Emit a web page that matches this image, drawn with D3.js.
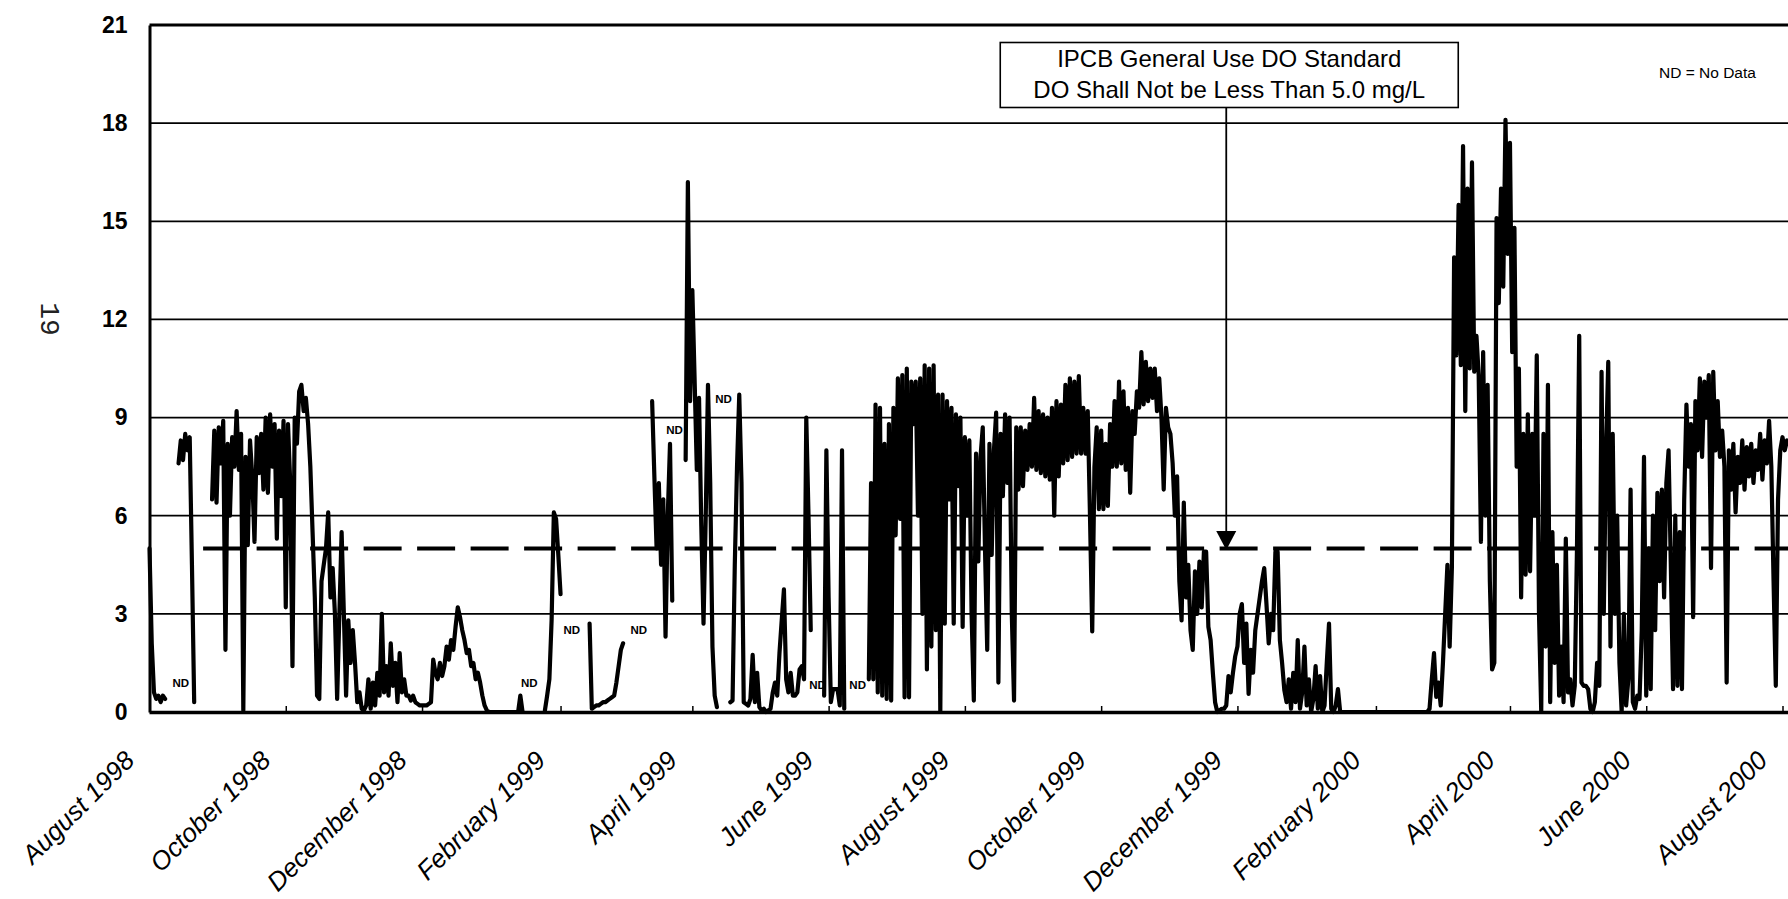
<!DOCTYPE html>
<html><head><meta charset="utf-8">
<script src="https://cdn.jsdelivr.net/npm/d3@7"></script>
<style>html,body{margin:0;padding:0;background:#fff;} svg{display:block;}</style>
</head><body>
<svg id="chart" width="1788" height="899"></svg>
<script>
// ---------------- DATA ----------------
const yTicks = [0, 3, 6, 9, 12, 15, 18, 21];
const xTickDates = ["1998-08-01","1998-10-01","1998-12-01","1999-02-01","1999-04-01","1999-06-01",
  "1999-08-01","1999-10-01","1999-12-01","2000-02-01","2000-04-01","2000-06-01","2000-08-01"];
const xTickLabels = ["August 1998","October 1998","December 1998","February 1999","April 1999","June 1999",
  "August 1999","October 1999","December 1999","February 2000","April 2000","June 2000","August 2000"];

// Daily dissolved oxygen (mg/L), one array per month starting on the 1st; null = no data
const aug1998 = [5.0,2.1,0.6,0.4,0.5,0.3,0.5,0.4,null,null,null,null,null,7.6,8.3,7.7,8.5,8.0,8.4,4.5,0.3,null,null,null,null,null,null,null,6.5,8.6,6.4];
const sep1998 = [8.7,7.6,8.9,1.9,8.2,6.0,8.4,7.5,9.2,7.4,8.5,0.05,7.8,5.1,8.3,7.2,5.2,8.4,7.3,8.5,6.8,9.0,6.7,9.1,7.5,8.8,5.3,8.6,6.6,8.9];
const oct1998 = [3.2,8.8,7.0,1.4,9.0,8.2,9.8,10.0,9.2,9.6,8.8,7.5,5.5,3.5,0.5,0.4,4.0,4.5,5.0,6.1,3.5,4.4,3.0,0.4,3.0,5.5,3.0,0.5,2.8,1.5,2.5];
const nov1998 = [1.5,0.3,0.6,0.1,0.05,0.2,1.0,0.1,0.9,0.2,1.2,0.5,3.0,0.6,1.4,0.5,2.1,0.8,1.5,0.3,1.8,0.6,1.0,0.5,0.5,0.35,0.5,0.3,0.25,0.2];
const dec1998 = [0.2,0.2,0.2,0.25,0.3,1.6,1.2,1.0,1.5,1.1,1.4,2.0,1.6,2.2,1.9,2.6,3.2,2.9,2.5,2.2,1.8,1.9,1.4,1.5,1.0,1.2,0.9,0.5,0.2,0.05,0.0];
const jan1999 = [0,0,0,0,0,0,0,0,0,0,0,0,0,0.5,0,null,null,null,null,null,null,null,null,null,0.05,0.5,1.0,2.8,6.1,5.9,4.8];
const feb1999 = [3.6,null,null,null,null,null,null,null,null,null,null,null,null,2.7,0.1,0.15,0.2,0.2,0.25,0.3,0.3,0.35,0.4,0.45,0.5,0.9,1.4,1.9];
const mar1999 = [2.1,null,null,null,null,null,null,null,null,null,null,null,null,9.5,7.2,5.0,7.0,4.5,6.5,2.3,6.0,8.2,3.4,null,null,null,null,null,7.7,16.2,9.5];
const apr1999 = [12.9,10.2,7.4,9.6,5.7,2.7,6.0,10.0,7.0,2.0,0.5,0.15,null,null,null,null,null,0.3,0.35,4.5,7.5,9.7,7.0,0.3,0.25,0.2,0.4,1.75,0.3,1.2];
const may1999 = [0.15,0.05,0.1,0.0,0.05,0.1,0.6,0.9,0.5,1.8,2.8,3.75,1.0,0.6,1.2,0.5,0.5,0.6,1.3,1.4,1.0,9.0,6.0,2.5,null,null,null,null,null,0.5,8.0];
const jun1999 = [3.5,0.3,0.7,0.7,0.7,0.2,8.0,0.1,null,null,null,null,null,null,null,null,null,null,1.0,7.0,1.0,9.4,0.6,9.3,0.5,8.2,0.4,8.8,0.35,9.3];
const jul1999 = [5.4,10.2,5.9,10.3,0.45,10.5,0.45,10.1,8.8,10.1,6.0,10.2,3.0,10.6,1.3,10.5,2.0,10.6,2.5,9.7,0.0,9.7,2.7,9.5,6.5,9.3,2.7,9.1,6.9,9.0,2.6];
const aug1999 = [8.4,6.0,8.3,3.0,0.35,7.9,4.6,7.8,8.7,5.0,1.9,8.2,4.8,8.0,9.15,0.9,8.5,6.6,9.1,7.0,9.0,3.0,0.35,8.7,6.8,8.7,6.9,8.6,7.4,8.8,7.5];
const sep1999 = [9.6,7.4,9.2,7.3,9.1,7.2,9.0,7.1,9.3,6.0,9.5,7.2,9.4,7.6,10.0,7.7,10.2,7.8,10.1,7.9,10.27,7.9,9.3,7.9,9.2,6.0,2.46,7.5,8.7,6.2];
const oct1999 = [8.6,6.2,8.2,6.3,8.8,7.5,9.5,7.5,10.1,7.6,9.8,7.4,9.3,6.7,9.2,8.5,9.8,9.3,11.0,9.4,10.7,9.5,10.5,9.6,10.5,9.2,10.2,9.0,6.8,9.3,8.7];
const nov1999 = [8.5,7.6,6.0,7.2,4.0,2.8,6.4,3.5,4.5,2.5,1.9,4.3,3.0,4.6,3.2,4.9,4.9,2.6,2.2,1.2,0.3,0.0,0.05,0.1,0.1,0.2,1.1,0.6,1.2,1.7];
const dec1999 = [2.0,3.0,3.3,1.5,2.7,0.55,1.9,1.2,2.5,3.0,3.5,4.0,4.4,3.3,2.1,3.0,2.5,4.9,4.9,2.2,1.5,0.67,0.3,1.0,0.1,1.2,0.3,2.2,0.1,0.6,2.0];
const jan2000 = [0.2,1.0,0.0,0.4,1.4,0.1,1.1,0.0,0.2,1.5,2.7,0.1,0.0,0.2,0.7,0,0,0,0,0,0,0,0,0,0,0,0,0,0,0,0];
const feb2000 = [0,0,0,0,0,0,0,0,0,0,0,0,0,0,0,0,0,0,0,0,0,0,0,0,0.1,1.0,1.8,0.46,0.9];
const mar2000 = [0.2,1.5,3.0,4.5,2.0,4.4,13.9,10.9,15.5,10.6,17.3,9.2,16.0,10.5,16.8,10.4,11.5,10.3,5.2,11.0,6.0,10.0,4.0,1.3,1.5,15.1,12.5,16.0,13.0,18.1,14.0];
const apr2000 = [17.4,11.0,14.8,7.5,10.5,3.5,8.5,4.2,9.1,4.3,8.5,6.0,10.9,3.0,0.0,8.5,2.0,10.0,0.3,5.5,1.5,4.5,0.5,2.0,0.3,5.3,0.6,1.0,0.2,0.8];
const may2000 = [5.0,11.5,0.9,0.8,0.8,0.7,0.1,0.0,0.3,1.5,0.8,10.4,3.0,8.0,10.7,2.0,8.5,3.0,6.0,1.5,0.0,3.0,0.2,1.0,6.8,0.3,0.1,0.5,0.4,2.5,7.8];
const jun2000 = [0.5,5.0,0.7,6.0,2.5,6.7,4.0,6.8,3.5,7.0,8.0,4.5,0.7,6.0,0.8,5.5,0.7,6.5,9.4,7.5,8.8,2.9,9.5,8.0,10.2,7.8,10.1,9.0,10.3,4.4];
const jul2000 = [10.4,8.0,9.5,7.8,8.6,7.5,0.9,8.0,6.8,8.2,6.1,7.8,7.0,8.3,6.8,8.1,7.2,8.2,7.0,8.0,7.4,8.5,7.1,8.3,7.6,8.9,7.5,4.0,0.8,6.5,8.0];
const aug2000 = [8.4,8.0,8.3];

const monthStarts = ["1998-08-01","1998-09-01","1998-10-01","1998-11-01","1998-12-01","1999-01-01","1999-02-01",
  "1999-03-01","1999-04-01","1999-05-01","1999-06-01","1999-07-01","1999-08-01","1999-09-01","1999-10-01",
  "1999-11-01","1999-12-01","2000-01-01","2000-02-01","2000-03-01","2000-04-01","2000-05-01","2000-06-01",
  "2000-07-01","2000-08-01"];
const monthValues = [aug1998,sep1998,oct1998,nov1998,dec1998,jan1999,feb1999,mar1999,apr1999,may1999,jun1999,jul1999,
  aug1999,sep1999,oct1999,nov1999,dec1999,jan2000,feb2000,mar2000,apr2000,may2000,jun2000,jul2000,aug2000];

// IPCB standard (dashed line)
const standardValue = 5.0;
const standardDates = ["1998-08-25", "2000-08-10"];

// "ND" (no data) markers
const ndDates  = ["1998-08-15","1999-01-18","1999-02-06","1999-03-08","1999-03-24","1999-04-15","1999-05-27","1999-06-14"];
const ndValues = [0.77, 0.77, 2.39, 2.39, 8.5, 9.46, 0.70, 0.70];

// annotation
const noteLines = ["IPCB General Use DO Standard", "DO Shall Not be Less Than 5.0 mg/L"];
const noteArrowDate = "1999-11-26";
const legendNote = "ND = No Data";
const pageMark = "19";

// ---------------- DRAW ----------------
const W = 1788, H = 899;
const svg = d3.select("#chart");
svg.append("rect").attr("width", W).attr("height", H).attr("fill", "#fff");

const parse = d3.utcParse("%Y-%m-%d");
const x = d3.scaleUtc().domain([parse("1998-08-01"), parse("2000-08-01")]).range([149.5, 1782.5]);
const y = d3.scaleLinear().domain([0, 21]).range([712, 25]);
const x0 = x.range()[0], xEnd = W;
const FONT = "'Liberation Sans', Arial, Helvetica, sans-serif";

// gridlines
svg.append("g").selectAll("line").data(yTicks.filter(v => v > 0 && v < 21)).join("line")
  .attr("x1", x0).attr("x2", xEnd).attr("y1", d => y(d)).attr("y2", d => y(d))
  .attr("stroke", "#000").attr("stroke-width", 1.8);
// top border
svg.append("line").attr("x1", x0).attr("x2", xEnd).attr("y1", y(21)).attr("y2", y(21))
  .attr("stroke", "#000").attr("stroke-width", 3);

// standard dashed line
svg.append("line")
  .attr("x1", x(parse(standardDates[0]))).attr("x2", x(parse(standardDates[1])))
  .attr("y1", y(standardValue)).attr("y2", y(standardValue))
  .attr("stroke", "#000").attr("stroke-width", 4).attr("stroke-dasharray", "38 15.5");

// data
const points = [];
monthStarts.forEach((s, k) => {
  const start = parse(s);
  monthValues[k].forEach((v, i) => points.push({ date: d3.utcDay.offset(start, i), value: v }));
});
const line = d3.line().defined(d => d.value !== null).x(d => x(d.date)).y(d => y(d.value));
svg.append("path").datum(points).attr("d", line)
  .attr("fill", "none").attr("stroke", "#000").attr("stroke-width", 4.2)
  .attr("stroke-linejoin", "round").attr("stroke-linecap", "round");

// y axis
const yAxis = svg.append("g").attr("transform", `translate(${x0},0)`)
  .call(d3.axisLeft(y).tickValues(yTicks).tickSize(0).tickPadding(22).tickFormat(d3.format("d")));
yAxis.select(".domain").attr("stroke", "#000").attr("stroke-width", 3);
yAxis.selectAll("text").attr("font-family", FONT).attr("font-size", 23).attr("font-weight", "bold").attr("fill", "#000");

// x axis
const xAxis = svg.append("g").attr("transform", `translate(0,${y(0)})`)
  .call(d3.axisBottom(x).tickValues(xTickDates.map(parse)).tickSizeInner(-6).tickSizeOuter(0)
    .tickFormat((d, i) => xTickLabels[i]));
xAxis.select(".domain").attr("stroke", "#000").attr("stroke-width", 3.5).attr("d", `M${x0},0.5H${xEnd}`);
xAxis.selectAll(".tick line").attr("stroke", "#000").attr("stroke-width", 1.5);
xAxis.selectAll(".tick text")
  .attr("font-family", FONT).attr("font-size", 26).attr("font-style", "italic").attr("fill", "#000")
  .attr("text-anchor", "end").attr("y", 0).attr("dy", 0)
  .attr("transform", "translate(-14,50) rotate(-45)");

// ND labels
svg.append("g").selectAll("text").data(ndDates).join("text")
  .attr("x", (d) => x(parse(d))).attr("y", (d, i) => y(ndValues[i]))
  .attr("text-anchor", "middle").attr("font-family", FONT).attr("font-size", 11.5)
  .attr("font-weight", "bold").text("ND");

// annotation box + arrow
const ax = x(parse(noteArrowDate));
const boxW = 458, boxH = 65, boxTop = 42.5;
svg.append("rect").attr("x", ax + 3 - boxW / 2).attr("y", boxTop).attr("width", boxW).attr("height", boxH)
  .attr("fill", "#fff").attr("stroke", "#000").attr("stroke-width", 1.6);
svg.append("g").selectAll("text").data(noteLines).join("text")
  .attr("x", ax + 3).attr("y", (d, i) => boxTop + 24 + i * 31)
  .attr("text-anchor", "middle").attr("font-family", FONT).attr("font-size", 24).text(d => d);
const tipY = y(standardValue) + 1.5;
svg.append("line").attr("x1", ax).attr("x2", ax).attr("y1", boxTop + boxH).attr("y2", tipY - 18)
  .attr("stroke", "#000").attr("stroke-width", 1.8);
svg.append("path").attr("d", `M${ax - 10},${tipY - 19}L${ax + 10},${tipY - 19}L${ax},${tipY}Z`).attr("fill", "#000");

// legend note
svg.append("text").attr("x", 1659).attr("y", 78).attr("font-family", FONT).attr("font-size", 15.5).text(legendNote);

// page mark
svg.append("text").attr("transform", "translate(51,319) rotate(90)").attr("text-anchor", "middle")
  .attr("dy", "0.35em").attr("font-family", "'Liberation Mono', 'DejaVu Sans Mono', monospace")
  .attr("font-size", 28).attr("fill", "#222").text(pageMark);
</script>
</body></html>
